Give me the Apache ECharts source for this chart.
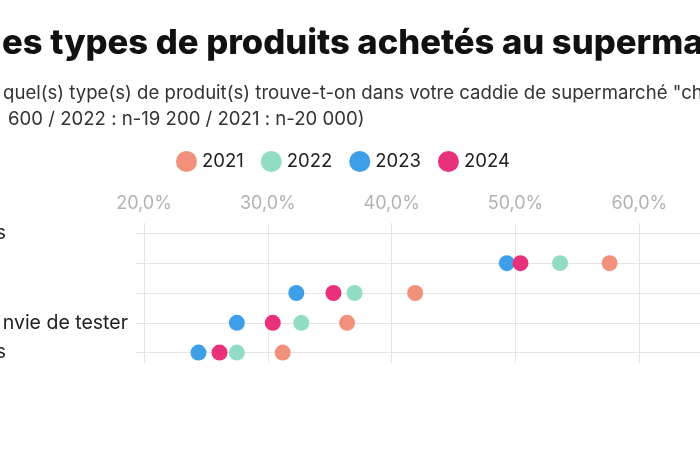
<!DOCTYPE html>
<html>
<head>
<meta charset="utf-8">
<script src="https://cdn.jsdelivr.net/npm/echarts@6/dist/echarts.min.js"></script>
<style>
html,body{margin:0;padding:0;background:#fff;}
#c{width:700px;height:450px;}
</style>
</head>
<body>
<div id="c"></div>
<script>
// Visible (cropped) texts of the reference
var titleText = 'es types de produits achetés au superma';
var subLine1 = 'quel(s) type(s) de produit(s) trouve-t-on dans votre caddie de supermarché "ch';
var subLine2 = '600 / 2022 : n-19 200 / 2021 : n-20 000)';

// Rows (top to bottom), visible label fragments
var categories = ['s', '', '', 'nvie de tester', 's'];
var rowIndex = [0, 1, 2, 3, 4];

// Series values (%), one per row
var years = ['2021', '2022', '2023', '2024'];
var v2021 = [null, 57.6, 41.9, 36.4, 31.2];
var v2022 = [null, 53.6, 37.0, 32.7, 27.5];
var v2023 = [null, 49.3, 32.3, 27.5, 24.4];
var v2024 = [null, 50.4, 35.3, 30.4, 26.1];

// x tick labels
var xTicks = [20, 30, 40, 50, 60];

var colors = ['#F2917B', '#92DBC5', '#3E9FE8', '#E8307B'];
var allValues = [v2021, v2022, v2023, v2024];

function toPairs(arr) {
  var out = [];
  arr.forEach(function (v, i) { if (v != null) out.push([v, rowIndex[i]]); });
  return out;
}

var font = 'Inter, "Noto Sans", sans-serif';

var option = {
  backgroundColor: '#ffffff',
  animation: false,
  title: [
    { text: titleText, left: -3, top: 21,
      textStyle: { fontFamily: font, fontWeight: 800, fontSize: 34.6, color: '#111' } },
    { text: subLine1, left: -2, top: 79,
      textStyle: { fontFamily: font, fontWeight: 400, fontSize: 18.6, color: '#333' } },
    { text: subLine2, left: 3, top: 105,
      textStyle: { fontFamily: font, fontWeight: 400, fontSize: 18.6, color: '#333', letterSpacing: 0.3 } }
  ],
  legend: {
    top: 146, left: 171,
    icon: 'circle', itemWidth: 21, itemHeight: 21, itemGap: 17,
    textStyle: { fontFamily: font, fontSize: 18.5, color: '#222' },
    data: years
  },
  grid: { left: 136, right: 0, top: 223, bottom: 87, outerBoundsMode: 'none', containLabel: false },
  xAxis: {
    type: 'value', position: 'top',
    min: 19.354, max: 64.9,
    axisLine: { show: false },
    axisTick: { show: false, customValues: xTicks },
    axisLabel: {
      customValues: xTicks,
      margin: 10,
      fontFamily: font, fontSize: 18, color: '#b3b3b3',
      formatter: function (v) { return v.toFixed(1).replace('.', ',') + '%'; }
    },
    splitLine: { show: true, lineStyle: { color: '#e5e5e5', width: 1 } }
  },
  yAxis: {
    type: 'value', inverse: true,
    min: -0.35, max: 4.35,
    axisLine: { show: false },
    axisTick: { show: false, customValues: rowIndex },
    axisLabel: {
      customValues: rowIndex,
      margin: 8,
      fontFamily: font, fontSize: 19.5, color: '#222',
      formatter: function (v) {
        var t = categories[Math.round(v)];
        if (!t) return '';
        if (t === 's') return '{s|' + t + '}';
        return '{r|' + t + '}';
      },
      rich: {
        s: { fontFamily: font, fontSize: 19.5, color: '#222', padding: [0, 122, 0, 0] },
        r: { fontFamily: font, fontSize: 19.5, color: '#222' }
      }
    },
    splitLine: { show: true, lineStyle: { color: '#e5e5e5', width: 1 } }
  },
  series: years.map(function (y, k) {
    return {
      name: y, type: 'scatter', symbol: 'circle', symbolSize: 16,
      itemStyle: { color: colors[k], opacity: 1 },
      emphasis: { disabled: true },
      data: toPairs(allValues[k]),
      z: 2 + k
    };
  })
};

var chart = echarts.init(document.getElementById('c'), null, { renderer: 'canvas' });
chart.setOption(option);
</script>
</body>
</html>
